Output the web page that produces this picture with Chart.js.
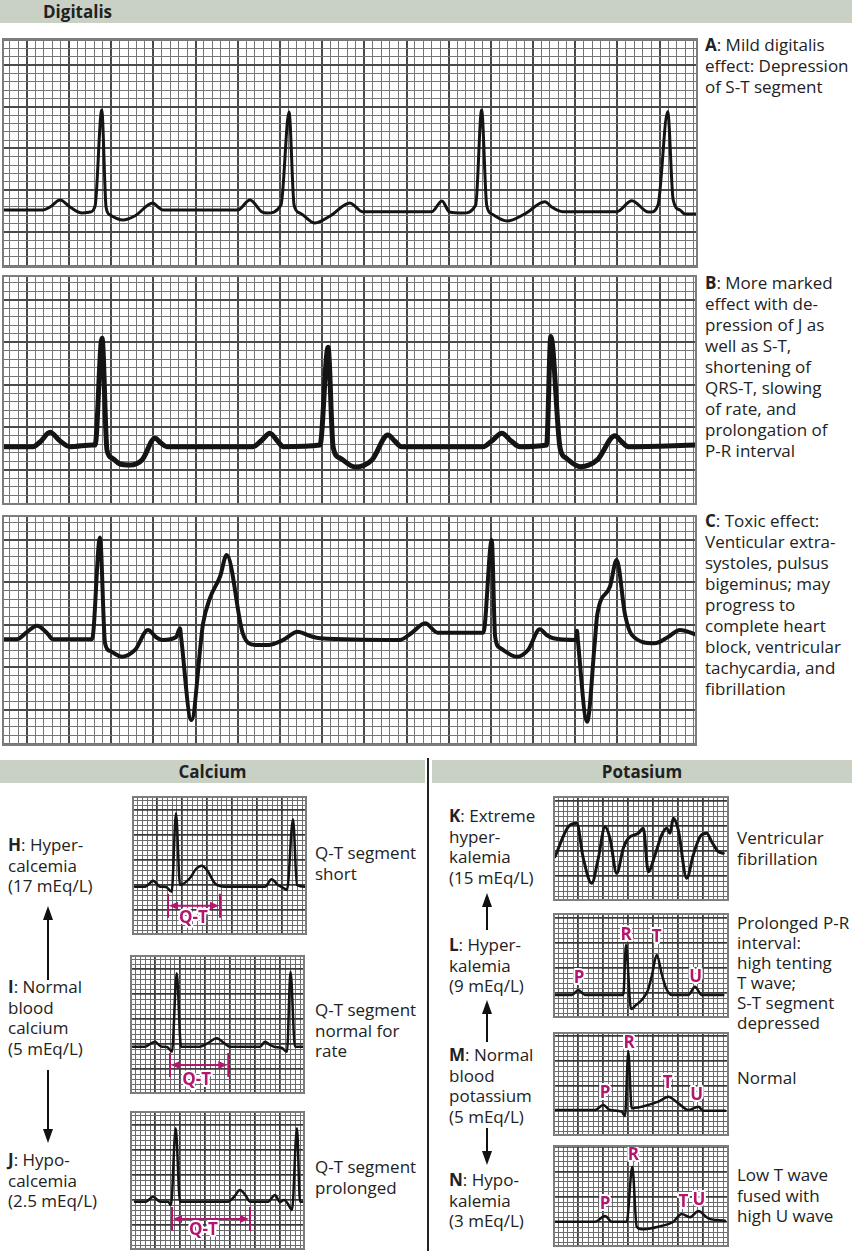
<!DOCTYPE html>
<html>
<head>
<meta charset="utf-8">
<script src="https://cdn.jsdelivr.net/npm/chart.js@4.4.1/dist/chart.umd.min.js"></script>
<style>
body { margin: 0; background: #fff; }
#page { position: relative; width: 852px; height: 1251px; overflow: hidden; font-family: "Open Sans", Lato, sans-serif; color: #222; }
canvas, .txt, .bar, svg { position: absolute; }
.txt { font-size: 17px; line-height: 21px; white-space: nowrap; }
.txt.s { line-height: 20.5px; }
.bar { background: #c9d0c4; height: 23px; font-weight: bold; font-size: 17px; line-height: 23px; }
</style>
</head>
<body>
<div id="page">
  <div class="bar" style="left:0;top:0;width:852px;"><span style="margin-left:43px">Digitalis</span></div>

  <canvas id="ecgA" width="696" height="230" style="left:2px;top:38px"></canvas>
  <canvas id="ecgB" width="695" height="230" style="left:2px;top:275px"></canvas>
  <canvas id="ecgC" width="695" height="231" style="left:2px;top:515px"></canvas>

  <div class="txt" style="left:705px;top:34px"><b>A</b>: Mild digitalis<br>effect: Depression<br>of S-T segment</div>
  <div class="txt" style="left:705px;top:272px"><b>B</b>: More marked<br>effect with de-<br>pression of J as<br>well as S-T,<br>shortening of<br>QRS-T, slowing<br>of rate, and<br>prolongation of<br>P-R interval</div>
  <div class="txt" style="left:705px;top:510px"><b>C</b>: Toxic effect:<br>Venticular extra-<br>systoles, pulsus<br>bigeminus; may<br>progress to<br>complete heart<br>block, ventricular<br>tachycardia, and<br>fibrillation</div>

  <div class="bar" style="left:0;top:760px;width:425px;text-align:center">Calcium</div>
  <div class="bar" style="left:432px;top:760px;width:420px;text-align:center">Potasium</div>

  <canvas id="ecgH" width="175" height="139" style="left:132px;top:796px"></canvas>
  <canvas id="ecgI" width="175" height="139" style="left:130px;top:955px"></canvas>
  <canvas id="ecgJ" width="175" height="139" style="left:130px;top:1111px"></canvas>

  <canvas id="ecgK" width="176" height="105" style="left:553px;top:796px"></canvas>
  <canvas id="ecgL" width="176" height="105" style="left:553px;top:913px"></canvas>
  <canvas id="ecgM" width="176" height="104" style="left:553px;top:1032px"></canvas>
  <canvas id="ecgN" width="176" height="102" style="left:553px;top:1145px"></canvas>

  <div class="txt s" style="left:8px;top:835px"><b>H</b>: Hyper-<br>calcemia<br>(17 mEq/L)</div>
  <div class="txt s" style="left:8px;top:977px"><b>I</b>: Normal<br>blood<br>calcium<br>(5 mEq/L)</div>
  <div class="txt s" style="left:8px;top:1150px"><b>J</b>: Hypo-<br>calcemia<br>(2.5 mEq/L)</div>

  <div class="txt s" style="left:315px;top:843px">Q-T segment<br>short</div>
  <div class="txt s" style="left:315px;top:1000px">Q-T segment<br>normal for<br>rate</div>
  <div class="txt s" style="left:315px;top:1157px">Q-T segment<br>prolonged</div>

  <div class="txt s" style="left:449px;top:806px"><b>K</b>: Extreme<br>hyper-<br>kalemia<br>(15 mEq/L)</div>
  <div class="txt s" style="left:449px;top:935px"><b>L</b>: Hyper-<br>kalemia<br>(9 mEq/L)</div>
  <div class="txt s" style="left:449px;top:1045px"><b>M</b>: Normal<br>blood<br>potassium<br>(5 mEq/L)</div>
  <div class="txt s" style="left:449px;top:1170px"><b>N</b>: Hypo-<br>kalemia<br>(3 mEq/L)</div>

  <div class="txt s" style="left:737px;top:828px">Ventricular<br>fibrillation</div>
  <div class="txt s" style="left:737px;top:913px;line-height:20px">Prolonged P-R<br>interval:<br>high tenting<br>T wave;<br>S-T segment<br>depressed</div>
  <div class="txt s" style="left:737px;top:1068px">Normal</div>
  <div class="txt s" style="left:737px;top:1165px">Low T wave<br>fused with<br>high U wave</div>

  <svg width="852" height="1251" style="left:0;top:0;pointer-events:none">
    <line x1="428" y1="758" x2="428" y2="1251" stroke="#222" stroke-width="2"/>
    <g stroke="#111" stroke-width="2" fill="#111">
      <line x1="48" y1="918" x2="48" y2="980"/><polygon points="48,906 43,920 53,920" stroke="none"/>
      <line x1="48" y1="1070" x2="48" y2="1131"/><polygon points="48,1143 43,1129 53,1129" stroke="none"/>
      <line x1="487" y1="905" x2="487" y2="930"/><polygon points="487,893 482,907 492,907" stroke="none"/>
      <line x1="487" y1="1012" x2="487" y2="1042"/><polygon points="487,1000 482,1014 492,1014" stroke="none"/>
      <line x1="487" y1="1128" x2="487" y2="1153"/><polygon points="487,1165 482,1151 492,1151" stroke="none"/>
    </g>
  </svg>
</div>

<script>
// time in small squares (0.04 s), amplitude in small squares (0.1 mV)
const aTime = [-2.93, 1.93, 2.76, 3.95, 5.13, 6.56, 7.5, 8.1, 8.89, 9.4, 9.87, 11.4, 12.8, 14.96, 15.56, 16.15, 25.0, 26.45, 27.88, 28.47, 30.13, 31.08, 31.68, 32.38, 34.16, 35.93, 38.3, 39.0, 39.73, 48.0, 49.2, 50.1, 51.7, 53.2, 53.9, 54.5, 55.1, 56.9, 59.0, 61.4, 62.2, 63.5, 69.9, 71.7, 73.5, 73.9, 74.8, 75.95, 76.6, 77.4, 78.0, 79.5];
const aVolt = [2.6, 2.6, 2.96, 3.8, 2.96, 2.24, 2.36, 3.08, 14.6, 2.96, 2.0, 1.4, 1.88, 3.44, 2.96, 2.6, 2.6, 3.8, 2.36, 2.24, 3.2, 14.36, 3.2, 2.24, 1.04, 1.88, 3.44, 2.96, 2.4, 2.4, 3.69, 2.36, 2.24, 3.2, 14.6, 3.2, 2.12, 1.28, 2.12, 3.6, 2.96, 2.4, 2.4, 3.72, 2.4, 2.36, 3.2, 14.4, 3.8, 2.6, 2.12, 2.12];

const bTime = [-2.93, 0.75, 1.58, 2.76, 3.95, 5.13, 7.86, 8.1, 8.92, 9.51, 10.1, 11.05, 12.24, 13.66, 15.2, 15.9, 16.6, 26.8, 27.88, 28.8, 29.8, 30.4, 34.75, 35.7, 36.3, 37.1, 38.9, 40.9, 42.8, 43.6, 44.4, 54.1, 55.1, 56.3, 57.4, 58.45, 61.6, 62.1, 63.2, 63.9, 65.6, 67.6, 69.7, 70.4, 71.3, 79.4];
const bVolt = [2.74, 2.74, 3.29, 4.44, 3.41, 2.74, 2.94, 2.94, 15.5, 2.35, 1.41, 0.7, 0.59, 1.18, 3.73, 3.18, 2.74, 2.74, 3.53, 4.32, 3.29, 2.74, 2.94, 14.44, 2.74, 1.41, 0.35, 1.18, 4.12, 3.41, 2.74, 2.74, 3.41, 4.32, 3.41, 2.74, 2.94, 15.7, 2.55, 1.41, 0.39, 1.18, 4.04, 3.41, 2.74, 2.94];

const cTime = [-2.93, -1.15, 0.04, 1.22, 2.4, 3.12, 7.74, 8.68, 9.28, 9.87, 11.3, 12.83, 14.37, 15.3, 16.1, 17.7, 18.16, 18.3, 19.5, 20.9, 21.7, 22.9, 23.7, 25.6, 27.05, 28.59, 30.4, 32.1, 33.6, 34.75, 44.2, 45.6, 47.2, 48.7, 54.1, 55.1, 55.5, 56.1, 58.06, 59.4, 60.8, 61.6, 62.4, 65.1, 65.2, 65.3, 66.4, 67.3, 67.6, 69.1, 69.9, 70.9, 71.7, 74.4, 76.0, 77.4, 79.4];
const cVolt = [8.32, 8.32, 9.18, 9.92, 9.06, 8.32, 8.32, 20.3, 7.85, 6.94, 6.27, 7.06, 9.41, 8.59, 8.24, 8.59, 9.61, 8.47, -1.18, 10.2, 13.14, 15.68, 18.24, 9.02, 7.65, 7.65, 8.24, 9.21, 8.7, 8.44, 8.24, 9.06, 10.2, 9.09, 9.09, 20.0, 8.62, 7.29, 6.27, 7.06, 9.49, 8.82, 8.44, 8.24, 9.33, 8.24, -1.38, 7.85, 11.18, 14.5, 17.65, 11.18, 8.82, 7.85, 8.59, 9.41, 8.82];

// calcium strips
const hTime = [0.6, 2.6, 3.4, 4.2, 5.0, 5.6, 6.8, 7.94, 8.8, 9.6, 11.6, 12.8, 13.94, 15.0, 16.6, 18.6, 26.6, 27.94, 29.2, 30.0, 31.0, 32.2, 33.0, 34.6];
const hVolt = [9.66, 9.66, 10.2, 10.86, 10.2, 9.66, 9.6, 8.66, 24.34, 10.0, 11.4, 13.2, 13.86, 13.0, 10.34, 9.66, 9.66, 11.14, 10.0, 9.6, 9.0, 23.14, 10.0, 9.66];
const iTime = [0.6, 3.0, 4.0, 5.0, 5.8, 6.4, 7.4, 8.4, 9.34, 10.2, 14.0, 15.6, 17.34, 18.8, 20.0, 26.0, 27.0, 28.0, 28.8, 30.4, 31.4, 32.1, 33.0, 34.6];
const iVolt = [9.46, 9.46, 10.0, 10.46, 9.8, 9.46, 9.4, 8.46, 24.14, 9.46, 9.46, 10.2, 11.14, 10.2, 9.46, 9.46, 10.46, 9.8, 9.46, 9.2, 8.46, 24.46, 9.46, 9.46];
const jTime = [1.0, 3.2, 4.6, 6.0, 7.6, 8.2, 9.14, 10.0, 19.6, 20.8, 22.0, 23.2, 24.0, 27.6, 29.0, 30.0, 30.8, 31.6, 32.4, 33.4, 34.0, 34.8];
const jVolt = [9.66, 9.66, 10.66, 9.66, 9.66, 9.0, 24.34, 9.66, 9.66, 10.6, 12.0, 10.8, 9.66, 9.66, 11.0, 9.6, 10.0, 9.2, 8.0, 24.34, 9.66, 9.66];
const qtH = [7.2, 17.6];
const qtI = [8.0, 19.66];
const qtJ = [8.4, 24.0];

// potassium strips
const kTime = [0.4, 3.06, 4.74, 6.06, 7.74, 9.06, 10.4, 11.4, 12.74, 14.06, 15.06, 17.06, 18.06, 19.06, 20.4, 21.74, 22.74, 23.4, 24.06, 25.06, 26.74, 28.06, 29.4, 30.74, 31.74, 33.06, 34.06];
const kVolt = [8.86, 14.86, 15.54, 8.54, 3.54, 8.54, 14.86, 12.54, 5.54, 10.54, 12.54, 13.54, 14.54, 5.86, 9.2, 13.2, 14.54, 13.54, 16.54, 14.2, 4.54, 9.2, 12.86, 13.54, 11.86, 9.86, 9.54];
const lTime = [0.4, 3.8, 5.06, 6.4, 14.06, 14.6, 15.6, 16.6, 17.74, 19.0, 19.8, 20.74, 21.8, 22.6, 23.74, 27.06, 28.4, 29.74, 34.06];
const lVolt = [4.6, 4.6, 5.6, 4.6, 4.6, 14.6, 1.8, 2.6, 3.6, 5.6, 8.6, 12.6, 8.6, 6.0, 4.6, 4.6, 6.26, 4.6, 4.6];
const mTime = [0.4, 8.4, 10.06, 11.4, 13.74, 14.4, 15.06, 15.74, 17.74, 21.06, 23.06, 25.06, 27.06, 29.06, 30.06, 34.4];
const mVolt = [5.2, 5.2, 6.2, 5.2, 4.86, 4.0, 16.86, 5.54, 5.86, 6.86, 7.86, 6.54, 5.2, 5.86, 5.06, 5.06];
const nTime = [0.4, 8.4, 10.4, 11.74, 14.74, 15.86, 16.74, 17.74, 21.06, 24.06, 25.74, 27.4, 29.06, 31.06, 34.4];
const nVolt = [5.06, 5.06, 6.2, 5.06, 5.06, 16.06, 4.06, 3.54, 4.06, 5.06, 6.6, 5.94, 7.2, 5.74, 5.26];

// wave letters: name, time, amplitude
const lWaves = [['P', 5.2, 8.0], ['R', 14.6, 16.6], ['T', 20.74, 16.26], ['U', 28.54, 8.26]];
const mWaves = [['P', 10.4, 8.54], ['R', 15.2, 18.66], ['T', 22.94, 10.54], ['U', 28.74, 8.2]];
const nWaves = [['P', 10.4, 8.6], ['R', 16.06, 18.4], ['T', 26.06, 9.06], ['U', 29.2, 9.4]];

const MAGENTA = '#b3166f';

function haloText(ctx, s, px, py) {
  ctx.font = 'bold 17px "Open Sans", sans-serif';
  ctx.textAlign = 'center';
  ctx.textBaseline = 'middle';
  ctx.lineWidth = 4;
  ctx.lineJoin = 'round';
  ctx.strokeStyle = '#fff';
  ctx.strokeText(s, px, py);
  ctx.fillStyle = MAGENTA;
  ctx.fillText(s, px, py);
}

const ecgMarks = {
  id: 'ecgMarks',
  afterDatasetsDraw(chart, args, opts) {
    const {ctx, chartArea: a, scales: {x, y}} = chart;
    ctx.save();
    if (opts.qt) {
      const x0 = x.getPixelForValue(opts.qt[0]);
      const x1 = x.getPixelForValue(opts.qt[1]);
      const yy = y.getPixelForValue(opts.qtLevel);
      ctx.strokeStyle = MAGENTA;
      ctx.fillStyle = MAGENTA;
      ctx.lineWidth = 2;
      ctx.beginPath();
      ctx.moveTo(x0, yy - 12); ctx.lineTo(x0, yy + 12);
      ctx.moveTo(x1, yy - 12); ctx.lineTo(x1, yy + 12);
      ctx.moveTo(x0 + 6, yy); ctx.lineTo(x1 - 6, yy);
      ctx.stroke();
      ctx.beginPath();
      ctx.moveTo(x0 + 1, yy); ctx.lineTo(x0 + 10, yy - 4); ctx.lineTo(x0 + 10, yy + 4); ctx.closePath();
      ctx.moveTo(x1 - 1, yy); ctx.lineTo(x1 - 10, yy - 4); ctx.lineTo(x1 - 10, yy + 4); ctx.closePath();
      ctx.fill();
      haloText(ctx, 'Q-T', x.getPixelForValue(opts.qtLabel[0]), y.getPixelForValue(opts.qtLabel[1]));
    }
    (opts.waves || []).forEach(w => haloText(ctx, w[0], x.getPixelForValue(w[1]), y.getPixelForValue(w[2])));
    ctx.strokeStyle = '#7d7d7d';
    ctx.lineWidth = 2;
    ctx.strokeRect(a.left + 1, a.top + 1, a.right - a.left - 2, a.bottom - a.top - 2);
    ctx.restore();
  }
};

function gridAxis(min, max, look) {
  const major = v => Math.abs(Math.round(v)) % 5 === 0;
  return {
    type: 'linear',
    min: min,
    max: max,
    ticks: {display: false},
    border: {display: false},
    grid: {
      drawTicks: false,
      color: c => (c.tick && major(c.tick.value)) ? look.major : look.minor,
      lineWidth: c => (c.tick && major(c.tick.value)) ? look.majorW : 1
    },
    afterBuildTicks: axis => {
      const t = [];
      for (let v = Math.ceil(min); v <= Math.floor(max); v++) t.push({value: v});
      axis.ticks = t;
    }
  };
}

const bigLook = {minor: '#767676', major: '#4a4a4a', majorW: 2};
const smallLook = {minor: '#6c6c6c', major: '#3a3a3a', majorW: 1.8};

function ecgChart(id, time, volt, view, look, marks) {
  return new Chart(document.getElementById(id), {
    type: 'line',
    data: {
      datasets: [{
        data: time.map((t, i) => ({x: t, y: volt[i]})),
        borderColor: '#141414',
        borderWidth: view.lw,
        pointRadius: 0,
        cubicInterpolationMode: 'monotone',
        borderJoinStyle: 'round',
        borderCapStyle: 'round'
      }]
    },
    options: {
      responsive: false,
      animation: false,
      devicePixelRatio: 1,
      layout: {padding: 0},
      plugins: {
        legend: {display: false},
        tooltip: {enabled: false},
        ecgMarks: marks || {}
      },
      scales: {
        x: gridAxis(view.x0, view.x1, look),
        y: gridAxis(view.y0, view.y1, look)
      }
    },
    plugins: [ecgMarks]
  });
}

ecgChart('ecgA', aTime, aVolt, {x0: -2.93, x1: 79.54, y0: -4.36, y1: 23.25, lw: 3}, bigLook);
ecgChart('ecgB', bTime, bVolt, {x0: -2.93, x1: 79.42, y0: -4.12, y1: 22.94, lw: 5}, bigLook);
ecgChart('ecgC', cTime, cVolt, {x0: -2.93, x1: 79.42, y0: -4.24, y1: 22.94, lw: 4}, bigLook);

ecgChart('ecgH', hTime, hVolt, {x0: 0, x1: 35, y0: 0, y1: 27.8, lw: 2.5}, smallLook,
  {qt: qtH, qtLevel: 5.86, qtLabel: [12.26, 3.34]});
ecgChart('ecgI', iTime, iVolt, {x0: 0, x1: 35, y0: 0, y1: 27.8, lw: 2.5}, smallLook,
  {qt: qtI, qtLevel: 5.8, qtLabel: [13.34, 2.8]});
ecgChart('ecgJ', jTime, jVolt, {x0: 0, x1: 35, y0: 0, y1: 27.8, lw: 2.5}, smallLook,
  {qt: qtJ, qtLevel: 6.2, qtLabel: [14.66, 4.0]});

ecgChart('ecgK', kTime, kVolt, {x0: 0, x1: 35.2, y0: 0, y1: 21, lw: 3}, smallLook);
ecgChart('ecgL', lTime, lVolt, {x0: 0, x1: 35.2, y0: 0, y1: 21, lw: 2.5}, smallLook, {waves: lWaves});
ecgChart('ecgM', mTime, mVolt, {x0: 0, x1: 35.2, y0: 0, y1: 20.8, lw: 2.5}, smallLook, {waves: mWaves});
ecgChart('ecgN', nTime, nVolt, {x0: 0, x1: 35.2, y0: 0, y1: 20.4, lw: 2.5}, smallLook, {waves: nWaves});
</script>
</body>
</html>
